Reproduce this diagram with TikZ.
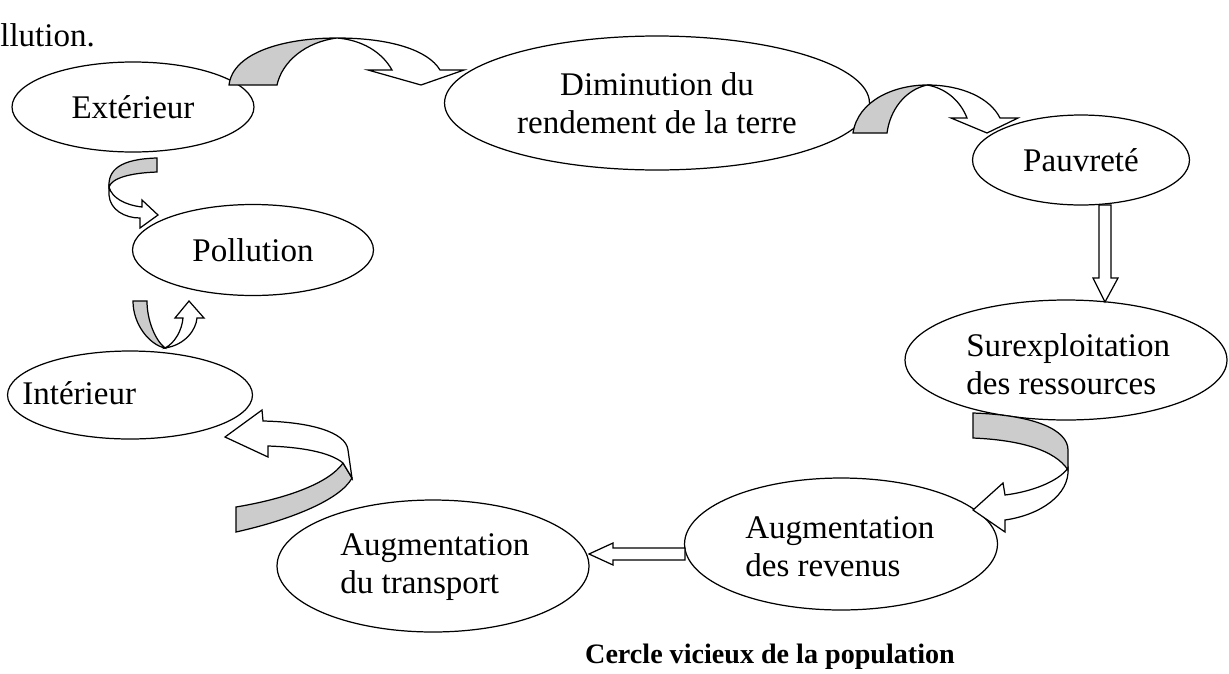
\documentclass[tikz,border=0pt]{standalone}
\usepackage{fontspec}
\setmainfont{Liberation Serif}
\usetikzlibrary{shapes.geometric}

\begin{document}
\begin{tikzpicture}[x=0.02cm,y=-0.02cm]
        \tikzset{bubble/.style= {draw, ellipse, line width=0.7pt, inner sep=0pt, font=\fontsize{18.8}{21.5}\selectfont, align=center},
                 txt/.style= {inner sep=0pt, anchor=west, align=left, font=\fontsize{18.8}{21.5}\selectfont},
                 shade/.style= {draw, fill=black!20, line width=0.7pt},
                 blockarrow/.style= {draw, fill=white, line width=0.7pt},
        }
        \useasboundingbox (0,0) rectangle (1229,673);

        \node [txt] (prev) at (0,35) {llution.};

        \node [bubble, minimum width=4.84cm, minimum height=1.8cm] (ext) at (133,107) {Extérieur};
        \node [bubble, minimum width=8.5cm, minimum height=2.68cm] (dim) at (657,103) {Diminution du\\rendement de la terre};
        \node [bubble, minimum width=4.34cm, minimum height=1.8cm] (pau) at (1081,160) {Pauvreté};
        \node [bubble, minimum width=4.82cm, minimum height=1.82cm] (pol) at (253,250) {Pollution};

        \node [bubble, minimum width=4.9cm, minimum height=1.76cm] (int) at (130,395) {};
        \node [txt] (inttxt) at (22,393) {Intérieur};
        \node [bubble, minimum width=6.44cm, minimum height=2.4cm] (sur) at (1066,360) {};
        \node [txt] (surtxt) at (966,364) {Surexploitation\\des ressources};
        \node [bubble, minimum width=6.26cm, minimum height=2.64cm] (rev) at (841,544) {};
        \node [txt] (revtxt) at (745,547) {Augmentation\\des revenus};
        \node [bubble, minimum width=6.24cm, minimum height=2.64cm] (tra) at (433,566) {};
        \node [txt] (tratxt) at (340,567) {Augmentation\\du transport};

        \node [font=\fontsize{16}{19}\selectfont\bfseries, inner sep=0pt] (title) at (770,657) {Cercle vicieux de la population};

        % Exterieur -> Diminution
        \draw[shade] (229,85) .. controls (233,52) and (285,38) .. (337,38)
            .. controls (305,42) and (282,62) .. (277,85) -- cycle;
        \draw[blockarrow] (337,38) .. controls (390,38) and (428,50) .. (440,70)
            -- (464,70) -- (421,85) -- (368,70) -- (392,70)
            .. controls (382,52) and (362,40) .. (337,38) -- cycle;

        % Diminution -> Pauvrete
        \draw[shade] (853,133) .. controls (858,100) and (895,85) .. (927,85)
            .. controls (905,90) and (890,110) .. (887,133) -- cycle;
        \draw[blockarrow] (927,85) .. controls (962,85) and (990,98) .. (1000,118)
            -- (1018,118) -- (987,133) -- (951,118) -- (967,118)
            .. controls (960,100) and (945,88) .. (927,85) -- cycle;

        % Pauvrete -> Surexploitation
        \draw[blockarrow] (1099,205) -- (1099,278) -- (1093,278) -- (1105,302)
            -- (1118,278) -- (1111,278) -- (1111,205) -- cycle;

        % Surexploitation -> revenus
        \draw[shade] (973,413) .. controls (1035,415) and (1068,430) .. (1068,450)
            -- (1068,470) .. controls (1055,450) and (1020,440) .. (973,438) -- cycle;
        \draw[blockarrow] (1068,468) .. controls (1070,495) and (1040,515) .. (1005,520)
            -- (1005,532) -- (973,510) -- (1003,483) -- (1005,495)
            .. controls (1030,492) and (1058,482) .. (1068,468) -- cycle;

        % revenus -> transport
        \draw[blockarrow] (685,548) -- (613,548) -- (613,543) -- (589,554)
            -- (613,565) -- (613,560) -- (685,560) -- cycle;

        % transport -> Interieur
        \draw[shade] (236,507) .. controls (290,498) and (330,482) .. (343,463)
            -- (352,478) .. controls (340,500) and (290,520) .. (236,532) -- cycle;
        \draw[blockarrow] (263,421) .. controls (310,422) and (346,432) .. (348,450)
            -- (352,478) -- (343,463) .. controls (330,452) and (300,447) .. (268,446)
            -- (268,457) -- (225,437) -- (262,410) -- cycle;

        % Exterieur -> Pollution
        \draw[shade] (157,158) -- (157,172) .. controls (130,173) and (112,178) .. (109,187)
            .. controls (108,170) and (120,159) .. (157,158) -- cycle;
        \draw[blockarrow] (109,187) -- (109,195) .. controls (110,210) and (125,218) .. (140,218)
            -- (140,228) -- (158,215) -- (142,200) -- (142,207)
            .. controls (125,205) and (112,198) .. (109,187) -- cycle;

        % Interieur -> Pollution
        \draw[shade] (133,301) .. controls (133,325) and (150,345) .. (165,348)
            .. controls (155,340) and (147,320) .. (147,301) -- cycle;
        \draw[blockarrow] (165,348) .. controls (185,345) and (196,330) .. (197,318)
            -- (204,318) -- (189,301) -- (175,318) -- (183,318)
            .. controls (182,330) and (175,343) .. (165,348) -- cycle;
\end{tikzpicture}
\end{document}
